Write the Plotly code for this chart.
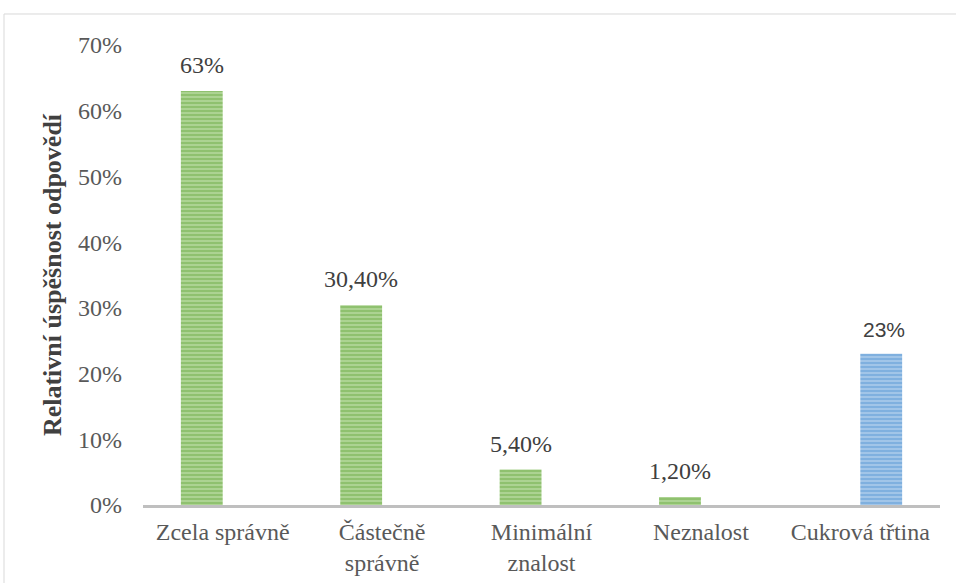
import plotly.graph_objects as go

# data --------------------------------------
categories = ["Zcela správně", "Částečně<br>správně", "Minimální<br>znalost",
              "Neznalost", "Cukrová třtina"]
green_values = [0.63, 0.304, 0.054, 0.012, None]
green_labels = ["63%", "30,40%", "5,40%", "1,20%", ""]
blue_values = [None, None, None, None, 0.23]
blue_labels = ["", "", "", "", "23%"]
y_ticks = [0, 0.1, 0.2, 0.3, 0.4, 0.5, 0.6, 0.7]
y_tick_labels = ["0%", "10%", "20%", "30%", "40%", "50%", "60%", "70%"]

serif = "Liberation Serif"
sans = "Liberation Sans"

fig = go.Figure()
fig.add_trace(go.Bar(
    x=categories, y=green_values,
    marker=dict(color="#70AD47", line=dict(width=0),
                pattern=dict(shape="-", fgcolor="#6CAB43", bgcolor="#B3D79B",
                             size=4, solidity=0.6)),
    showlegend=False,
))
fig.add_trace(go.Bar(
    x=categories, y=blue_values,
    marker=dict(color="#5B9BD5", line=dict(width=0),
                pattern=dict(shape="-", fgcolor="#5596D3", bgcolor="#A9CBEA",
                             size=4, solidity=0.6)),
    showlegend=False,
))

# value labels above bars
for cat, v, t in zip(categories, green_values, green_labels):
    if v is not None:
        fig.add_annotation(x=cat, y=v, text=t, showarrow=False, xshift=-21,
                           yanchor="bottom", yshift=11,
                           font=dict(family=serif, size=24, color="#404040"))
for cat, v, t in zip(categories, blue_values, blue_labels):
    if v is not None:
        fig.add_annotation(x=cat, y=v, text=t, showarrow=False, xshift=24,
                           yanchor="bottom", yshift=11,
                           font=dict(family=sans, size=21, color="#404040"))

# chart border
fig.add_shape(type="rect", xref="paper", yref="paper",
              x0=-0.1744, x1=1.05, y0=-0.3, y1=1.0674,
              line=dict(color="#D9D9D9", width=1), layer="below")

fig.update_layout(
    width=956, height=583,
    margin=dict(l=143, r=16, t=45, b=78),
    paper_bgcolor="white", plot_bgcolor="white",
    barmode="group", bargap=0.475, bargroupgap=0,
    font=dict(family=serif, size=24, color="#595959"),
)
fig.update_xaxes(
    showline=True, linecolor="#BFBFBF", linewidth=2.5,
    showgrid=False, ticks="", ticklabelstandoff=3, automargin=False,
    tickfont=dict(family=serif, size=24, color="#595959"),
)
fig.update_yaxes(
    range=[0, 0.7], tickvals=y_ticks, ticktext=y_tick_labels,
    showgrid=False, zeroline=False, showline=False,
    ticklabelstandoff=20, automargin=False,
    tickfont=dict(family=serif, size=24, color="#595959"),
    title=dict(text="<b>Relativní úspěšnost odpovědí</b>", standoff=8,
               font=dict(family=serif, size=26, color="#404040")),
)

fig.write_html("out.html", config={"displayModeBar": False},
               post_script="document.body.style.margin='0';")
